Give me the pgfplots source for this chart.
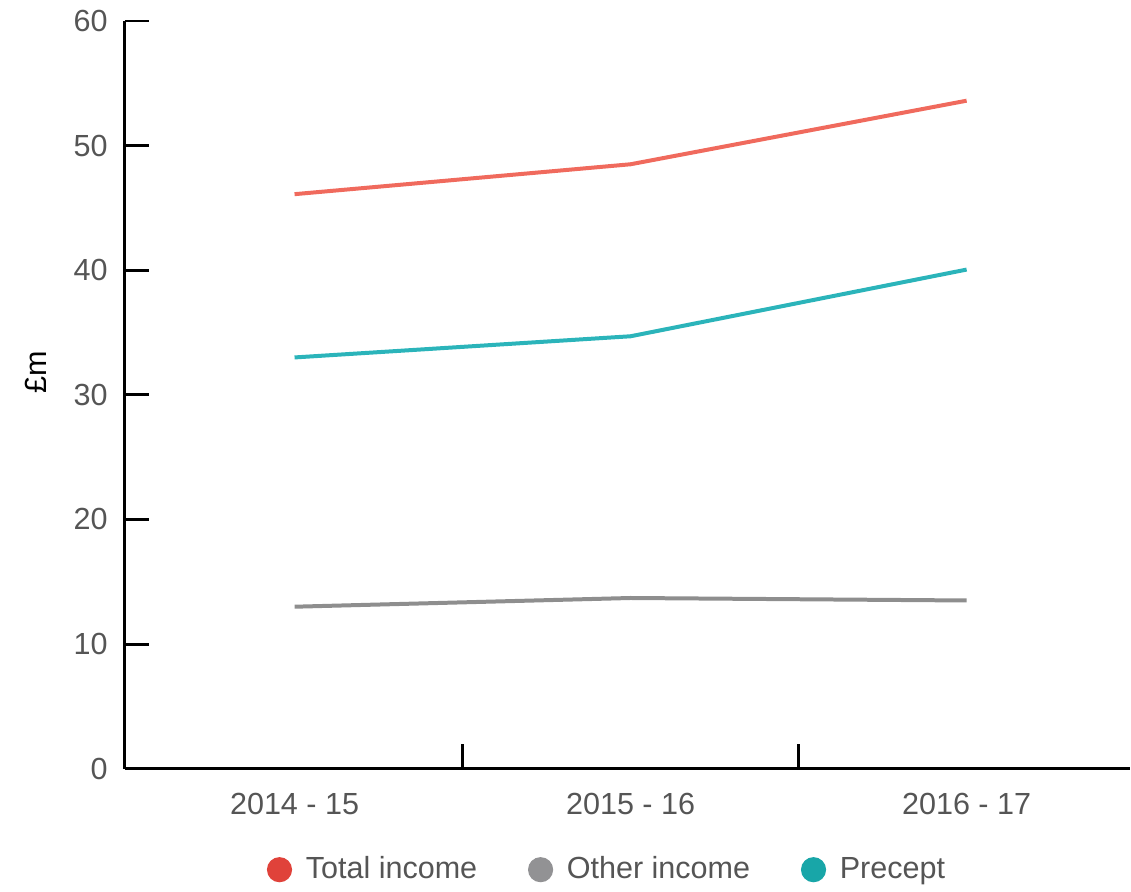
\documentclass[border=0pt]{standalone}
\usepackage{fontspec}
\setmainfont{Liberation Sans}
\usepackage{pgfplots}
\pgfplotsset{compat=1.18}

\definecolor{totline}{HTML}{F06A5D}
\definecolor{totdot}{HTML}{E0423A}
\definecolor{othline}{HTML}{8E8E8E}
\definecolor{othdot}{HTML}{929294}
\definecolor{preline}{HTML}{2BB4BA}
\definecolor{predot}{HTML}{18A6A8}
\definecolor{ticktext}{HTML}{555555}

\begin{document}
\begin{tikzpicture}
\begin{axis}[
    width=352pt, height=262pt, scale only axis,
    xmin=-0.505, xmax=2.485,
    ymin=0, ymax=60,
    axis x line*=bottom, axis y line*=left,
    axis line style={line width=1pt, black},
    xtick={0.5,1.5}, xticklabels={},
    extra x ticks={0,1,2},
    extra x tick labels={2014 - 15, 2015 - 16, 2016 - 17},
    extra x tick style={major tick length=0pt, tick style={draw=none}},
    ytick={0,10,...,60},
    tick align=inside,
    major tick length=8.5pt,
    tick style={line width=1pt, black},
    every tick label/.append style={font=\fontsize{10.7}{12}\selectfont, text=ticktext},
    xticklabel style={yshift=-5pt},
    yticklabel style={xshift=-2.5pt},
    /pgf/number format/assume math mode=true,
    ylabel={£m},
    ylabel style={at={(axis description cs:-0.089,0.53)}, anchor=center,
                  font=\fontsize{10.7}{12}\selectfont, text=black},
    clip=false,
    legend columns=3,
    legend style={at={(0.482,-0.135)}, anchor=center, draw=none,
                  inner sep=1pt,
                  font=\fontsize{10.7}{12}\selectfont, text=ticktext,
                  /tikz/every odd column/.append style={column sep=3pt},
                  /tikz/every even column/.append style={column sep=16pt}},
    legend cell align=left,
]
\addplot[totline, line width=1.4pt, forget plot] coordinates {(0,46.1) (1,48.5) (2,53.6)};
\addplot[othline, line width=1.4pt, forget plot] coordinates {(0,13.0) (1,13.7) (2,13.5)};
\addplot[preline, line width=1.4pt, forget plot] coordinates {(0,33.0) (1,34.7) (2,40.05)};
\addlegendimage{only marks, mark=*, mark size=4.2pt, color=totdot}
\addlegendentry{Total income}
\addlegendimage{only marks, mark=*, mark size=4.2pt, color=othdot}
\addlegendentry{Other income}
\addlegendimage{only marks, mark=*, mark size=4.2pt, color=predot}
\addlegendentry{Precept}
\path (rel axis cs:-0.1243,-0.1575) (rel axis cs:1.0,1.028);
\end{axis}
\end{tikzpicture}
\end{document}
